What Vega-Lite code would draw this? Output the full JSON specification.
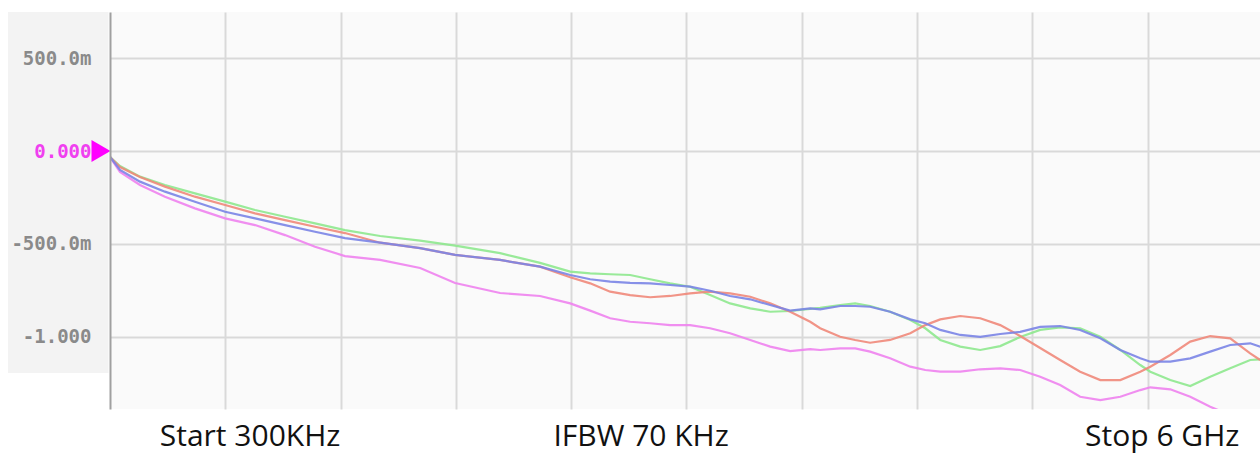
{
  "$schema": "https://vega.github.io/schema/vega-lite/v6.json",
  "width": 1150,
  "height": 397,
  "autosize": {"type": "none"},
  "padding": {"left": 110, "top": 12, "right": 0, "bottom": 45},
  "background": "white",
  "config": {"view": {"stroke": null, "fill": "#fafafa"}},
  "resolve": {"axis": {"y": "independent"}},
  "datasets": {
    "traces": [
      {"f": 0, "pink": -0.032, "green": -0.032, "red": -0.032, "blue": -0.032},
      {"f": 0.052, "pink": -0.113, "green": -0.081, "red": -0.086, "blue": -0.102},
      {"f": 0.156, "pink": -0.183, "green": -0.138, "red": -0.140, "blue": -0.165},
      {"f": 0.286, "pink": -0.246, "green": -0.183, "red": -0.192, "blue": -0.219},
      {"f": 0.442, "pink": -0.309, "green": -0.228, "red": -0.246, "blue": -0.273},
      {"f": 0.599, "pink": -0.363, "green": -0.273, "red": -0.291, "blue": -0.327},
      {"f": 0.755, "pink": -0.399, "green": -0.318, "red": -0.336, "blue": -0.363},
      {"f": 0.911, "pink": -0.453, "green": -0.354, "red": -0.372, "blue": -0.399},
      {"f": 1.067, "pink": -0.516, "green": -0.390, "red": -0.408, "blue": -0.435},
      {"f": 1.223, "pink": -0.566, "green": -0.426, "red": -0.442, "blue": -0.469},
      {"f": 1.406, "pink": -0.587, "green": -0.458, "red": -0.494, "blue": -0.494},
      {"f": 1.614, "pink": -0.630, "green": -0.483, "red": -0.523, "blue": -0.523},
      {"f": 1.796, "pink": -0.711, "green": -0.510, "red": -0.560, "blue": -0.560},
      {"f": 2.030, "pink": -0.765, "green": -0.550, "red": -0.587, "blue": -0.587},
      {"f": 2.238, "pink": -0.781, "green": -0.603, "red": -0.623, "blue": -0.623},
      {"f": 2.395, "pink": -0.821, "green": -0.650, "red": -0.680, "blue": -0.668},
      {"f": 2.499, "pink": -0.860, "green": -0.659, "red": -0.713, "blue": -0.691},
      {"f": 2.603, "pink": -0.901, "green": -0.664, "red": -0.758, "blue": -0.704},
      {"f": 2.707, "pink": -0.920, "green": -0.668, "red": -0.776, "blue": -0.710},
      {"f": 2.811, "pink": -0.928, "green": -0.691, "red": -0.788, "blue": -0.713},
      {"f": 2.915, "pink": -0.938, "green": -0.713, "red": -0.781, "blue": -0.722},
      {"f": 3.019, "pink": -0.938, "green": -0.731, "red": -0.767, "blue": -0.731},
      {"f": 3.123, "pink": -0.955, "green": -0.776, "red": -0.758, "blue": -0.753},
      {"f": 3.227, "pink": -0.982, "green": -0.821, "red": -0.767, "blue": -0.781},
      {"f": 3.332, "pink": -1.018, "green": -0.848, "red": -0.785, "blue": -0.799},
      {"f": 3.436, "pink": -1.054, "green": -0.866, "red": -0.821, "blue": -0.830},
      {"f": 3.540, "pink": -1.078, "green": -0.862, "red": -0.866, "blue": -0.860},
      {"f": 3.644, "pink": -1.067, "green": -0.851, "red": -0.920, "blue": -0.848},
      {"f": 3.696, "pink": -1.072, "green": -0.845, "red": -0.955, "blue": -0.853},
      {"f": 3.800, "pink": -1.063, "green": -0.830, "red": -1.001, "blue": -0.835},
      {"f": 3.878, "pink": -1.063, "green": -0.821, "red": -1.018, "blue": -0.835},
      {"f": 3.956, "pink": -1.081, "green": -0.835, "red": -1.033, "blue": -0.839},
      {"f": 4.060, "pink": -1.117, "green": -0.866, "red": -1.018, "blue": -0.866},
      {"f": 4.165, "pink": -1.162, "green": -0.911, "red": -0.982, "blue": -0.907},
      {"f": 4.243, "pink": -1.180, "green": -0.955, "red": -0.938, "blue": -0.928},
      {"f": 4.321, "pink": -1.189, "green": -1.018, "red": -0.907, "blue": -0.964},
      {"f": 4.425, "pink": -1.189, "green": -1.054, "red": -0.889, "blue": -0.991},
      {"f": 4.529, "pink": -1.176, "green": -1.072, "red": -0.901, "blue": -1.001},
      {"f": 4.633, "pink": -1.171, "green": -1.051, "red": -0.938, "blue": -0.986},
      {"f": 4.737, "pink": -1.180, "green": -1.002, "red": -0.997, "blue": -0.974},
      {"f": 4.841, "pink": -1.216, "green": -0.964, "red": -1.061, "blue": -0.948},
      {"f": 4.945, "pink": -1.261, "green": -0.950, "red": -1.126, "blue": -0.943},
      {"f": 5.049, "pink": -1.324, "green": -0.955, "red": -1.189, "blue": -0.964},
      {"f": 5.154, "pink": -1.342, "green": -1.001, "red": -1.234, "blue": -1.009},
      {"f": 5.258, "pink": -1.324, "green": -1.072, "red": -1.234, "blue": -1.072},
      {"f": 5.362, "pink": -1.288, "green": -1.153, "red": -1.189, "blue": -1.117},
      {"f": 5.414, "pink": -1.273, "green": -1.189, "red": -1.162, "blue": -1.135},
      {"f": 5.518, "pink": -1.284, "green": -1.234, "red": -1.099, "blue": -1.135},
      {"f": 5.622, "pink": -1.324, "green": -1.266, "red": -1.027, "blue": -1.117},
      {"f": 5.726, "pink": -1.378, "green": -1.216, "red": -0.997, "blue": -1.081},
      {"f": 5.830, "pink": -1.423, "green": -1.171, "red": -1.009, "blue": -1.045},
      {"f": 5.934, "pink": -1.476, "green": -1.126, "red": -1.090, "blue": -1.036},
      {"f": 5.986, "pink": -1.503, "green": -1.122, "red": -1.126, "blue": -1.054}
    ],
    "labels": [
      {"label": "Start 300KHz", "f": 0.729, "v": -1.541},
      {"label": "IFBW 70 KHz", "f": 2.764, "v": -1.541},
      {"label": "Stop 6 GHz", "f": 5.476, "v": -1.541}
    ]
  },
  "layer": [
    {
      "data": {"values": [{"panel": "labels"}]},
      "mark": {"type": "rect", "fill": "#f3f3f3", "clip": false},
      "encoding": {
        "x": {"datum": -0.531, "type": "quantitative", "scale": {"domain": [0, 5.985], "nice": false, "zero": false}},
        "x2": {"datum": -0.008},
        "y": {
          "datum": 0.749, "type": "quantitative",
          "scale": {"domain": [-1.39, 0.749], "nice": false, "zero": false},
          "axis": {
            "title": null, "orient": "left", "values": [-1, -0.5, 0, 0.5], "zindex": 2,
            "labelExpr": "datum.value == 0 ? '0.000' : datum.value == 0.5 ? '500.0m' : datum.value == -0.5 ? '-500.0m' : '-1.000'",
            "labelFont": "DejaVu Sans Mono", "labelFontSize": 19, "labelFontWeight": "bold",
            "labelColor": {"condition": {"test": "datum.value == 0", "value": "#f040f0"}, "value": "#8a8a8a"},
            "labelPadding": 19, "ticks": false, "grid": false,
            "domain": true, "domainColor": "#a0a0a0", "domainWidth": 2
          }
        },
        "y2": {"datum": -1.196}
      }
    },
    {
      "data": {"name": "traces"},
      "transform": [{"fold": ["pink", "green", "red", "blue"], "as": ["trace", "v"]}],
      "mark": {"type": "line", "strokeWidth": 2.2, "clip": true, "opacity": 0.9},
      "encoding": {
        "x": {
          "field": "f", "type": "quantitative",
          "scale": {"domain": [0, 5.985], "nice": false, "zero": false},
          "axis": {
            "title": null, "orient": "bottom", "values": [0.6, 1.2, 1.8, 2.4, 3.0, 3.6, 4.2, 4.8, 5.4],
            "labels": false, "ticks": false, "domain": false,
            "grid": true, "gridColor": "#d9d9d9", "gridWidth": 2
          }
        },
        "y": {
          "field": "v", "type": "quantitative",
          "scale": {"domain": [-1.39, 0.749], "nice": false, "zero": false},
          "axis": {
            "title": null, "orient": "left", "values": [-1, -0.5, 0, 0.5], "zindex": 0,
            "labels": false, "ticks": false, "domain": false,
            "grid": true, "gridColor": "#d9d9d9", "gridWidth": 2
          }
        },
        "color": {
          "field": "trace", "type": "nominal",
          "scale": {"domain": ["pink", "green", "red", "blue"], "range": ["#ee82ee", "#8ee88e", "#f0887a", "#7a84e6"]},
          "legend": null
        }
      }
    },
    {
      "data": {"values": [{"f": 0, "v": 0}]},
      "mark": {"type": "point", "shape": "triangle-right", "filled": true, "color": "#ff00ff", "size": 480, "opacity": 1, "xOffset": -9, "clip": false},
      "encoding": {
        "x": {"field": "f", "type": "quantitative", "scale": {"domain": [0, 5.985], "nice": false, "zero": false}},
        "y": {"field": "v", "type": "quantitative", "scale": {"domain": [-1.39, 0.749], "nice": false, "zero": false}, "axis": null}
      }
    },
    {
      "data": {"name": "labels"},
      "mark": {"type": "text", "font": "Open Sans", "fontSize": 30, "color": "#111111", "align": "center", "baseline": "middle", "clip": false},
      "encoding": {
        "x": {"field": "f", "type": "quantitative", "scale": {"domain": [0, 5.985], "nice": false, "zero": false}},
        "y": {"field": "v", "type": "quantitative", "scale": {"domain": [-1.39, 0.749], "nice": false, "zero": false}, "axis": null},
        "text": {"field": "label"}
      }
    }
  ]
}
